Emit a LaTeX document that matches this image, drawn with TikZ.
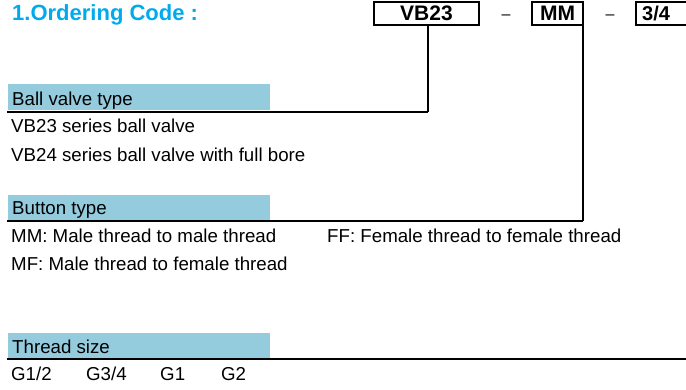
\documentclass[tikz,border=0pt]{standalone}
\usepackage{fontspec}
\setmainfont{Liberation Sans}
\definecolor{titleblue}{RGB}{0,170,236}
\definecolor{bandblue}{RGB}{148,204,222}
\begin{document}
\begin{tikzpicture}[x=1pt,y=-1pt,
  body/.style={inner sep=0pt, anchor=base west, font=\fontsize{18.7}{20}\selectfont},
  band/.style={fill=bandblue, inner sep=0pt, minimum width=262pt, minimum height=26pt, anchor=north west},
  codebox/.style={draw, line width=1.4pt, inner sep=0pt, minimum height=23pt, font=\bfseries\fontsize{21}{22}\selectfont},
  dashmark/.style={inner sep=0pt, anchor=base, font=\fontsize{16}{18}\selectfont},
  rule/.style={line width=2pt},
  lead/.style={line width=1.6pt}]
\useasboundingbox (0,0) rectangle (686,390);
% title
\node[inner sep=0pt, anchor=base west, text=titleblue, font=\bfseries\fontsize{22}{24}\selectfont] (title) at (12,21) {1.Ordering Code :};
% code boxes
\node[codebox, minimum width=105pt] (vb) at (426.5,13.5) {VB23};
\node[dashmark] (d1) at (506,20) {--};
\node[codebox, minimum width=51pt] (mm) at (557.5,13.5) {MM};
\node[dashmark] (d2) at (610,20) {--};
\draw[line width=1.4pt] (690,2) -- (636,2) -- (636,25) -- (690,25);
\node[inner sep=0pt, anchor=west, font=\bfseries\fontsize{20}{22}\selectfont] (sz) at (642,13.5) {3/4};
% section 1
\node[band] (b1) at (8,84) {};
\node[body] (t1) at (12,106) {Ball valve type};
\coordinate (c1) at (428,112);
\coordinate (e1) at (7,112);
\draw[lead] (c1 |- vb.south) -- (c1);
\draw[rule] (c1) -- (e1);
\node[body] (a1) at (11,133) {VB23 series ball valve};
\node[body] (a2) at (11,162) {VB24 series ball valve with full bore};
% section 2
\node[band, minimum height=25pt] (b2) at (8,195) {};
\node[body] (t2) at (12,215) {Button type};
\coordinate (c2) at (583,221);
\coordinate (e2) at (7,221);
\draw[lead] (c2 |- mm.south) -- (c2);
\draw[rule] (c2) -- (e2);
\node[body] (m1) at (11,243) {MM: Male thread to male thread};
\node[body] (m2) at (327,243) {FF: Female thread to female thread};
\node[body] (m3) at (11,271) {MF: Male thread to female thread};
% section 3
\node[band, minimum height=25pt] (b3) at (8,333) {};
\node[body] (t3) at (12,353) {Thread size};
\coordinate (s3) at (7,359);
\coordinate (e3) at (687,359);
\draw[rule] (s3) -- (e3);
\node[body] (g1) at (11,381) {G1/2};
\node[body] (g2) at (86,381) {G3/4};
\node[body] (g3) at (160,381) {G1};
\node[body] (g4) at (221,381) {G2};
\end{tikzpicture}
\end{document}
